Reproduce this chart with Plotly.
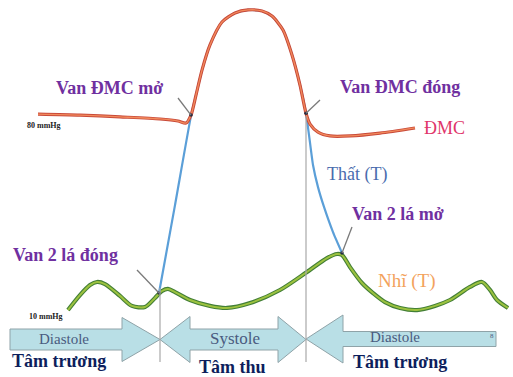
import plotly.graph_objects as go

# ---------------- data (time in arbitrary units, pressure in mmHg) ----------------
aorta_t = [38, 80, 120, 160, 178, 186, 191, 196, 202, 210, 222, 235, 248, 262, 272,
           283, 292, 300, 306, 310, 318, 330, 350, 380, 415]
aorta_p = [82.3, 81.9, 81.2, 80.4, 79.6, 78.8, 81.9, 89.7, 99.4, 109.2, 118.1, 121.6,
           122.8, 122.4, 120.4, 115.0, 105.3, 93.6, 82.6, 78.4, 75.3, 73.8, 73.8, 74.9, 76.9]

vent_t = [159, 175, 191, 196, 202, 210, 222, 235, 248, 262, 272, 283, 292, 300, 306,
          309, 313, 318, 324, 333, 342]
vent_p = [12.7, 46.9, 81.6, 89.7, 99.4, 109.2, 118.1, 121.6, 122.8, 122.4, 120.4, 115.0,
          105.3, 93.6, 82.6, 74.2, 62.5, 53.9, 46.2, 36.4, 28.3]

atrium_t = [68, 80, 90, 97, 105, 120, 132, 145, 155, 162, 168, 175, 190, 210, 227, 250,
            280, 307, 327, 337, 342, 350, 362, 373, 385, 400, 417, 435, 450, 470, 482,
            490, 497, 508]
atrium_p = [6.1, 11.9, 15.8, 17.0, 16.2, 11.6, 7.7, 7.3, 10.8, 13.5, 14.3, 13.1, 10.0,
            7.7, 6.9, 8.8, 13.9, 20.9, 26.3, 27.9, 27.5, 22.8, 16.6, 12.7, 9.2, 6.9, 6.1,
            7.7, 10.0, 15.1, 17.0, 13.9, 10.0, 6.9]

# valve events: (label, time, pressure)
event_labels = ["Van ĐMC mở", "Van ĐMC đóng", "Van 2 lá đóng", "Van 2 lá mở"]
event_t = [191, 306, 159, 342]
event_p = [81.9, 82.6, 12.7, 28.3]

phase_names = ["Diastole", "Systole", "Diastole"]
phase_vn = ["Tâm trương", "Tâm thu", "Tâm trương"]
phase_start = [10, 160, 306]
phase_end = [160, 306, 496]

curve_names = ["ĐMC", "Thất (T)", "Nhĩ (T)"]
ref_labels = ["80 mmHg", "10 mmHg"]

# ---------------- layout helpers ----------------
W, H = 513, 377
K = 70 / 180.0          # mmHg per pixel


def P(ypx):
    """pixel row -> pressure units of the y axis"""
    return 10 + (300 - ypx) * K


SERIF = "Liberation Serif, Times New Roman, serif"
fig = go.Figure()

# atrium (two-tone green)
fig.add_trace(go.Scatter(x=atrium_t, y=atrium_p, mode="lines", line=dict(color="#437f36", width=4.2, shape="spline", smoothing=0.8), hoverinfo="skip", showlegend=False))
fig.add_trace(go.Scatter(x=atrium_t, y=atrium_p, mode="lines", line=dict(color="#9cc23f", width=2.0, shape="spline", smoothing=0.8), hoverinfo="skip", showlegend=False))
# ventricle
fig.add_trace(go.Scatter(x=vent_t, y=vent_p, mode="lines", line=dict(color="#5b9fd8", width=2.2, shape="spline", smoothing=0.5), hoverinfo="skip", showlegend=False))
# aorta (two-tone red)
fig.add_trace(go.Scatter(x=aorta_t, y=aorta_p, mode="lines", line=dict(color="#c84a3a", width=3.2, shape="spline", smoothing=0.7), hoverinfo="skip", showlegend=False))
fig.add_trace(go.Scatter(x=aorta_t, y=aorta_p, mode="lines", line=dict(color="#f28a5c", width=1.3, shape="spline", smoothing=0.7), hoverinfo="skip", showlegend=False))

shapes = []


def arrow_path(x0, x1, yc, bh, hh, lw, rw):
    pts = []
    if rw:
        pts += [(x0 + lw, yc - bh) if lw else (x0, yc - bh), (x1 - rw, yc - bh), (x1 - rw, yc - hh), (x1, yc), (x1 - rw, yc + hh), (x1 - rw, yc + bh)]
    else:
        pts += [(x0 + lw, yc - bh), (x1, yc - bh), (x1, yc + bh)]
    if lw:
        pts += [(x0 + lw, yc + bh), (x0 + lw, yc + hh), (x0, yc), (x0 + lw, yc - hh)]
    else:
        pts += [(x0, yc + bh)]
    d = "M " + " L ".join(f"{x},{P(y)}" for x, y in pts) + " Z"
    return d


arrow_specs = [(339.5, 10.5, 22, 0, 38), (339.5, 10.5, 23, 30, 28), (339, 7.5, 24, 37, 0)]
for (yc, bh, hh, lw, rw), x0, x1 in zip(arrow_specs, phase_start, phase_end):
    shapes.append(dict(type="path", xref="x", yref="y", path=arrow_path(x0, x1, yc, bh, hh, lw, rw),
                       fillcolor="#b9dfe6", line=dict(color="#8fa3a8", width=1), layer="below"))

# vertical phase boundaries
for t, ytop in zip([phase_start[1], phase_start[2]], [288, 116]):
    shapes.append(dict(type="line", xref="x", yref="y", x0=t, x1=t, y0=P(ytop), y1=P(362),
                       line=dict(color="#a8a8a8", width=1.2)))

# leader lines for valve events
tails = [(178, 98), (320, 100), (137, 270), (352, 227)]
for (tx, ty), et, ep in zip(tails, event_t, event_p):
    shapes.append(dict(type="line", xref="x", yref="y", x0=tx, y0=P(ty), x1=et, y1=ep,
                       line=dict(color="#7a7a7a", width=1.3)))

fig.add_trace(go.Scatter(x=event_t, y=event_p, mode="markers", marker=dict(color="#222a40", size=3.5),
                         hoverinfo="skip", showlegend=False))

ann = []
# valve labels
for lab, (x, y) in zip(event_labels, [(109, 88), (400, 87), (65, 255), (398, 214)]):
    ann.append(dict(x=x, y=P(y), text=f"<b>{lab}</b>", font=dict(family=SERIF, size=18, color="#7030a0")))
# curve names
for lab, (x, y), col, sz in zip(curve_names, [(444, 128), (357, 174), (407, 281)],
                                ["#e0356a", "#4a6cae", "#f3a25c"], [18, 18, 19]):
    ann.append(dict(x=x, y=P(y), text=lab, font=dict(family=SERIF, size=sz, color=col)))
# reference pressure labels
for lab, (x, y) in zip(ref_labels, [(44, 125), (46, 316)]):
    ann.append(dict(x=x, y=P(y), text=f"<b>{lab}</b>", font=dict(family=SERIF, size=8, color="#222222")))
# phase labels
for lab, (x, y), sz in zip(phase_names, [(64, 339), (235, 338), (395, 337)], [15, 17, 15]):
    ann.append(dict(x=x, y=P(y), text=lab, font=dict(family=SERIF, size=sz, color="#4a5b80")))
ann.append(dict(x=492, y=P(336), text="8", font=dict(family=SERIF, size=7, color="#4a5b80")))
for lab, (x, y) in zip(phase_vn, [(59, 361), (232, 367), (400, 362)]):
    ann.append(dict(x=x, y=P(y), text=f"<b>{lab}</b>", font=dict(family=SERIF, size=18, color="#0d1e5c")))

for a in ann:
    a.update(xref="x", yref="y", showarrow=False, xanchor="center", yanchor="middle")

fig.update_layout(
    width=W, height=H, margin=dict(l=0, r=0, t=0, b=0),
    paper_bgcolor="white", plot_bgcolor="white",
    xaxis=dict(range=[0, W], visible=False, fixedrange=True),
    yaxis=dict(range=[P(H), P(0)], visible=False, fixedrange=True),
    shapes=shapes, annotations=ann, showlegend=False,
)

fig.write_html("out.html", config={"displayModeBar": False},
               post_script="document.body.style.margin='0';document.body.style.overflow='hidden';")
